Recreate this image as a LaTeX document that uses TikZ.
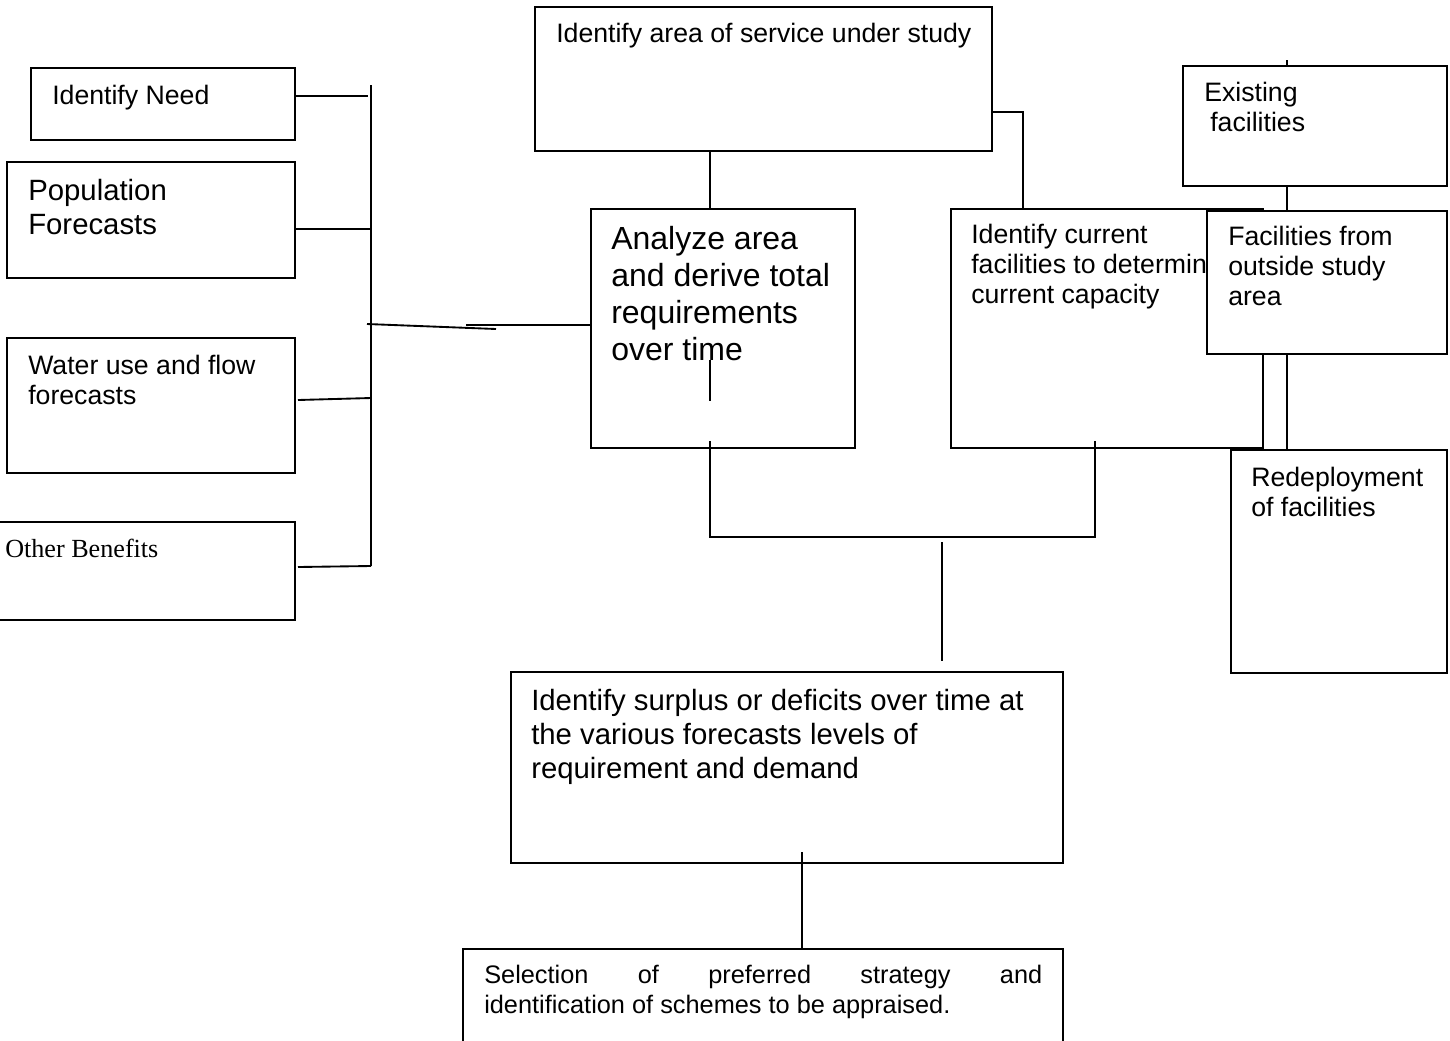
\documentclass[tikz,border=0pt]{standalone}
\usepackage{fontspec}
\setmainfont{Liberation Sans}
\newfontfamily\timesfont{Liberation Serif}
\usetikzlibrary{fit}

\tikzset{
  box/.style={draw,line width=1.4pt,inner sep=0pt},
  link/.style={line width=1.4pt},
  txt/.style={anchor=north west,inner sep=0pt,align=left,font=\fontsize{20}{22.5}\selectfont},
}

\begin{document}
\begin{tikzpicture}[x=0.75pt,y=-0.75pt]
\useasboundingbox (0,0) rectangle (1450,1040);
\clip (0,0) rectangle (1450,1040);
% left column
\node[box,fit={(31,68) (295,140)}] (need) {};
\node[txt] (need-txt) at (52,85) {Identify Need};
\node[box,fit={(7,162) (295,278)}] (pop) {};
\node[txt,font=\fontsize{22}{25.5}\selectfont] (pop-txt) at (28,179) {Population\\Forecasts};
\node[box,fit={(7,338) (295,473)}] (water) {};
\node[txt] (water-txt) at (28,355) {Water use and flow\\forecasts};
\node[box,fit={(-3,522) (295,620)}] (other) {};
\node[txt,font=\timesfont\fontsize{19.6}{22.5}\selectfont] (other-txt) at (5,539) {Other Benefits};
% bus
\coordinate (bustop) at (371,85);
\coordinate (busbot) at (371,566);
\draw[link] (bustop) -- (busbot);
\draw[link] (need.east |- 0,96) -- (368,96);
\draw[link] (pop.east |- 0,229) -- (bustop |- 0,229);
\draw[link] (298,400) -- (bustop |- 0,398);
\draw[link] (298,567) -- (busbot);
% middle column
\node[box,fit={(535,7) (992,151)}] (area) {};
\node[txt] (area-txt) at (556,23) {Identify area of service under study};
\node[box,fit={(591,209) (855,448)}] (analyze) {};
\node[txt,font=\fontsize{24}{27.75}\selectfont] (analyze-txt) at (611,226) {Analyze area\\and derive total\\requirements\\over time};
\draw[link] (367,324) -- (496,329);
\draw[link] (466,325) -- (analyze.west |- 0,325);
\draw[link] (area.south -| 710,0) -- (analyze.north -| 710,0);
\draw[link] (710,360) -- (710,401);
% current facilities
\node[box,fit={(951,209) (1263,448)}] (current) {};
\node[txt] (current-txt) at (971,224) {Identify current\\facilities to determine\\current capacity};
\draw[link] (area.east |- 0,112) -| (current.north -| 1023,0);
\draw[link] (710,441) |- (1095,537) -- (1095,441);
% right column
\node[box,fit={(1183,66) (1447,186)}] (exist) {};
\node[txt] (exist-txt) at (1204,82) {Existing\\\hspace*{4.5pt}facilities};
\draw[link] (1287,60) -- (exist.north -| 1287,0);
\draw[link] (exist.south -| 1287,0) -- (1287,211);
\node[box,fill=white,fit={(1207,211) (1447,354)}] (outside) {};
\node[txt] (outside-txt) at (1228,226) {Facilities from\\outside study\\area};
\node[box,fit={(1231,450) (1447,673)}] (redeploy) {};
\node[txt] (redeploy-txt) at (1251,467) {Redeployment\\of facilities};
\draw[link] (outside.south -| 1287,0) -- (redeploy.north -| 1287,0);
% bottom
\draw[link] (942,542) -- (942,661);
\node[box,fit={(511,672) (1063,863)}] (surplus) {};
\node[txt,font=\fontsize{22}{25.5}\selectfont] (surplus-txt) at (531,689) {Identify surplus or deficits over time at\\the various forecasts levels of\\requirement and demand};
\node[box,fit={(463,949) (1063,1060)}] (select) {};
\node[txt,text width=418.5pt,align=justify,font=\fontsize{19}{22.5}\selectfont] (select-txt) at (484,965) {Selection of preferred strategy and\linebreak identification of schemes to be appraised.};
\draw[link] (802,852) -- (select.north -| 802,0);
\end{tikzpicture}
\end{document}
